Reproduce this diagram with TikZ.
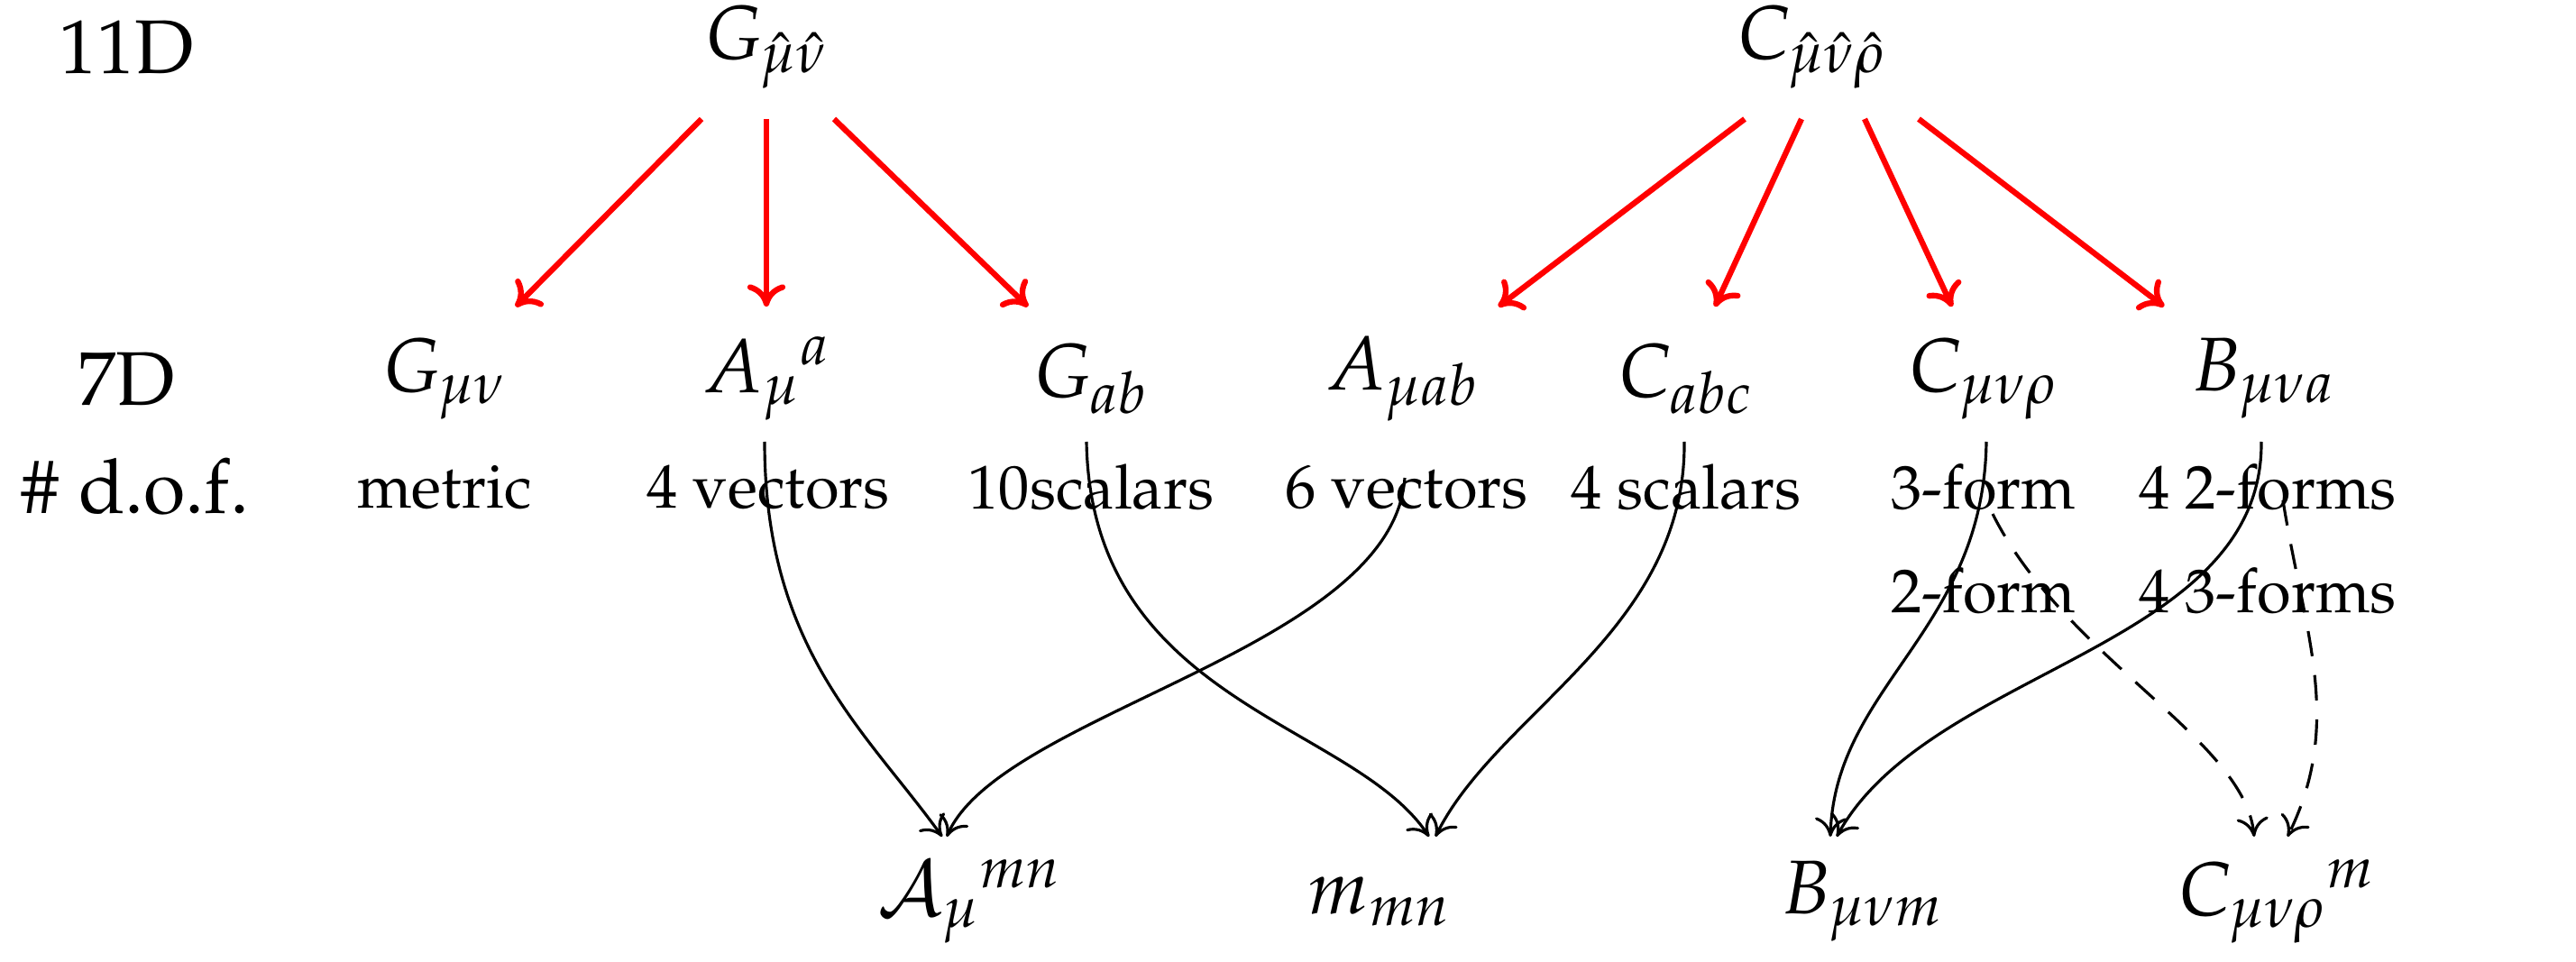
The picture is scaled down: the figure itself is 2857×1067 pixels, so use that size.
\documentclass[tikz,border=0pt]{standalone}
\usepackage[T1]{fontenc}
\usepackage{mathpazo}
\usetikzlibrary{arrows.meta}
\begin{document}
\begin{tikzpicture}[x=0.01cm,y=-0.01cm,
  big/.style={font=\fontsize{24}{28}\selectfont, inner sep=0pt},
  small/.style={font=\fontsize{19.5}{23}\selectfont, inner sep=0pt},
  red arr/.style={red, line width=1.8pt, -{To[length=7pt,width=12pt]}},
  blk/.style={black, line width=0.9pt, -{To[length=6pt,width=10pt]}},
  dsh/.style={blk, dashed, dash pattern=on 8pt off 6pt}]
\useasboundingbox (0,0) rectangle (2857,1067);
\node[big] (l11) at (140,52) {11D};
\node[big] (Gh) at (850,52) {$G_{\hat\mu\hat\nu}$};
\node[big] (Ch) at (2010,52) {$C_{\hat\mu\hat\nu\hat\rho}$};
\node[big] (l7) at (140,420) {7D};
\node[big] (Gmn) at (493,420) {$G_{\mu\nu}$};
\node[big] (Ama) at (850,420) {$A_{\mu}{}^{a}$};
\node[big] (Gab) at (1210,420) {$G_{ab}$};
\node[big] (Amab) at (1555,420) {$A_{\mu ab}$};
\node[big] (Cabc) at (1870,420) {$C_{abc}$};
\node[big] (Cmnr) at (2200,420) {$C_{\mu\nu\rho}$};
\node[big] (Bmna) at (2510,420) {$B_{\mu\nu a}$};
\node[big] (ldof) at (150,540) {\# d.o.f.};
\node[small] (d1) at (493,540) {metric};
\node[small] (d2) at (852,540) {4 vectors};
\node[small] (d3) at (1210,540) {10scalars};
\node[small] (d4) at (1560,540) {6 vectors};
\node[small] (d5) at (1870,540) {4 scalars};
\node[small] (d6) at (2200,540) {3-form};
\node[small] (d7) at (2515,540) {4 2-forms};
\node[small] (e6) at (2200,655) {2-form};
\node[small] (e7) at (2515,655) {4 3-forms};
\node[big] (Amn) at (1075,1000) {$\mathcal{A}_{\mu}{}^{mn}$};
\node[big] (mmn) at (1530,1000) {$m_{mn}$};
\node[big] (Bm) at (2065,1000) {$B_{\mu\nu m}$};
\node[big] (Cm) at (2525,1000) {$C_{\mu\nu\rho}{}^{m}$};
% anchor points
\coordinate (g1) at (778,132); \coordinate (g1e) at (572,340);
\coordinate (g2) at (850,132); \coordinate (g2e) at (850,340);
\coordinate (g3) at (925,132); \coordinate (g3e) at (1140,340);
\coordinate (c1) at (1935,132); \coordinate (c1e) at (1662,340);
\coordinate (c2) at (1998,132); \coordinate (c2e) at (1902,340);
\coordinate (c3) at (2068,132); \coordinate (c3e) at (2165,340);
\coordinate (c4) at (2128,132); \coordinate (c4e) at (2400,340);
\draw[red arr] (g1) -- (g1e);
\draw[red arr] (g2) -- (g2e);
\draw[red arr] (g3) -- (g3e);
\draw[red arr] (c1) -- (c1e);
\draw[red arr] (c2) -- (c2e);
\draw[red arr] (c3) -- (c3e);
\draw[red arr] (c4) -- (c4e);
% black
\coordinate (a1) at (848,490); \coordinate (a1e) at (1045,928);
\coordinate (a2) at (1558,530); \coordinate (a2e) at (1050,928);
\coordinate (b1) at (1205,490); \coordinate (b1e) at (1585,928);
\coordinate (b2) at (1868,490); \coordinate (b2e) at (1592,928);
\coordinate (k1) at (2203,490); \coordinate (k1e) at (2030,928);
\coordinate (k2) at (2508,490); \coordinate (k2e) at (2037,928);
\coordinate (q1) at (2210,570); \coordinate (q1e) at (2500,928);
\coordinate (q2) at (2532,555); \coordinate (q2e) at (2537,928);
\draw[blk] (a1) .. controls (848,720) and (960,810) .. (a1e);
\draw[blk] (a2) .. controls (1545,720) and (1110,790) .. (a2e);
\draw[blk] (b1) .. controls (1210,780) and (1500,800) .. (b1e);
\draw[blk] (b2) .. controls (1870,700) and (1660,790) .. (b2e);
\draw[blk] (k1) .. controls (2200,700) and (2035,760) .. (k1e);
\draw[blk] (k2) .. controls (2510,720) and (2140,740) .. (k2e);
\draw[dsh] (q1) .. controls (2290,730) and (2490,820) .. (q1e);
\draw[dsh] (q2) .. controls (2555,700) and (2600,800) .. (q2e);
\end{tikzpicture}
\end{document}
